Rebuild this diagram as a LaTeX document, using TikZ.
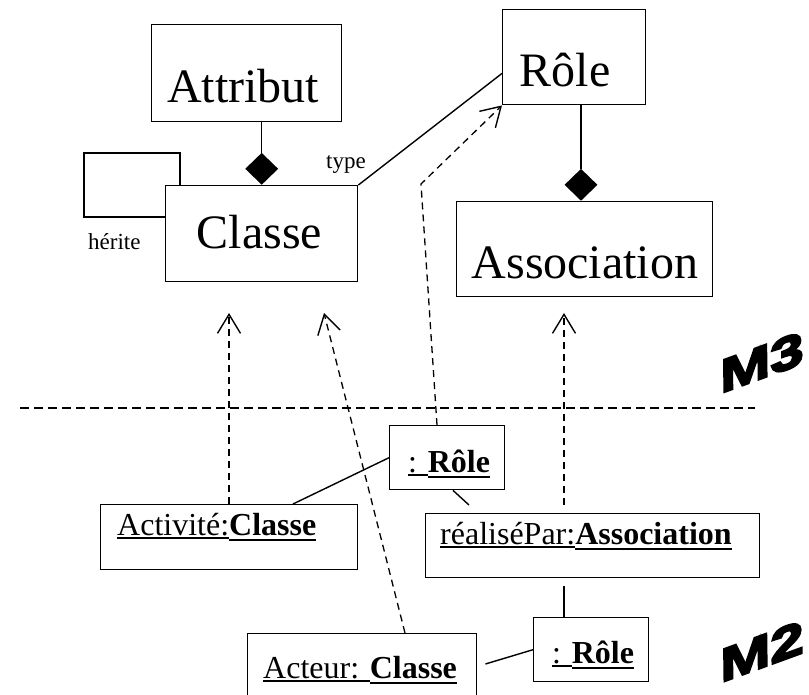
\documentclass[tikz,border=0pt]{standalone}
\usepackage{fontspec}
\setmainfont{Liberation Serif}
\newfontfamily\tagfont[FakeSlant=0.35,FakeBold=5,FakeStretch=1.45]{Liberation Sans}
\usetikzlibrary{arrows.meta,shapes.geometric,calc}

% underlined object names: thin rule under plain text, thick rule under bold text
\newcommand\ulr[1]{\setbox0\hbox{#1}\rlap{\rule[-3.5pt]{\wd0}{1.3pt}}\box0}
\newcommand\ulb[1]{\setbox0\hbox{\bfseries #1}\rlap{\rule[-6pt]{\wd0}{2.4pt}}\box0}

\tikzset{
  box/.style={draw, line width=1.4pt, inner sep=0pt, anchor=north west},
  big/.style={font=\fontsize{48}{50}\selectfont, anchor=base, inner sep=0pt},
  obj/.style={font=\fontsize{32}{34}\selectfont, anchor=base west, inner sep=0pt},
  small/.style={font=\fontsize{23}{25}\selectfont, anchor=base west, inner sep=0pt},
  link/.style={line width=1.4pt},
  dep/.style={line width=1.3pt, dash pattern=on 7pt off 5pt,
    -{Straight Barb[length=19pt,width=23pt,line width=1.4pt]}},
  sep/.style={line width=1.4pt, dash pattern=on 9pt off 5pt},
  comp/.style={diamond, fill=black, draw=none, inner sep=0pt,
    minimum width=33pt, minimum height=32pt, anchor=south},
  layer/.style={font=\tagfont\bfseries\fontsize{44}{44}\selectfont, rotate=20, inner sep=0pt}
}

\begin{document}
\begin{tikzpicture}[x=1pt,y=-1pt]
\useasboundingbox (0,0) rectangle (809,694);
\clip (0,0) rectangle (809,694);

% ---- metamodel (M3) ----
\node[box, minimum width=190pt, minimum height=97pt] (attr) at (151,24) {};
\node[box, minimum width=192pt, minimum height=96pt] (classe) at (165,185) {};
\node[box, minimum width=143pt, minimum height=95pt] (role) at (502,9) {};
\node[box, minimum width=256pt, minimum height=95pt] (assoc) at (456,201) {};

\node[big] (attrT) at (243,102) {Attribut};
\node[big] (classeT) at (259.5,248) {Classe};
\node[big] (roleT) at (565,86) {Rôle};
\node[big] (assocT) at (585,278) {Association};

\node[small] (typeT) at (326,168) {type};
\node[small] (heriteT) at (88,249) {hérite};

% compositions
\node[comp] (d1) at (classe.north) {};
\draw[link] (d1.north) -- (d1.north |- attr.south);
\node[comp] (d2) at ($(assoc.north west)+(125,0)$) {};
\draw[link] (d2.north) -- (d2.north |- role.south);

% association "type"
\draw[link] (classe.north east) -- ($(role.south west)+(0,-32)$);

% self association "hérite"
\draw[link] ($(classe.north west)+(15,0)$) |- ($(classe.north west)+(-81,-32)$)
  |- ($(classe.north west)+(0,32)$);

% ---- layer separator ----
\coordinate (sepL) at (20,408);
\coordinate (sepR) at (755,408);
\draw[sep] (sepL) -- (sepR);

\node[layer] (m3) at (757,364) {M3};
\node[layer] (m2) at (757,653) {M2};

% ---- model (M2) ----
\node[box, minimum width=257pt, minimum height=65pt] (act) at (100,504) {};
\node[box, minimum width=115pt, minimum height=64pt] (r1) at (389,425) {};
\node[box, minimum width=334pt, minimum height=64pt] (rp) at (425,513) {};
\node[box, minimum width=115pt, minimum height=64pt] (r2) at (533,617) {};
\node[box, minimum width=229pt, minimum height=80pt] (acteur) at (247,633) {};

\node[obj] (actT) at (117,535) {\ulr{Activité:}\ulb{Classe}};
\node[obj] (r1T) at (408,472) {\ulr{: }\ulb{Rôle}};
\node[obj] (rpT) at (440,544) {\ulr{réaliséPar:}\ulb{Association}};
\node[obj] (r2T) at (552,663) {\ulr{: }\ulb{Rôle}};
\node[obj] (acteurT) at (263,678) {\ulr{Acteur: }\ulb{Classe}};

% links between instances
\draw[link] ($(act.north west)+(193,0)$) -- (r1.west);
\draw[link] ($(r1.south west)+(64,0)$) -- ($(rp.north west)+(44,-8)$);
\draw[link] ($(rp.south west)+(139,8)$) -- ($(r2.north west)+(31,0)$);
\draw[link] ($(acteur.north east)+(8,31)$) -- (r2.west);

% instance-of dependencies
\coordinate (t1) at (229,313);
\coordinate (t2) at (324,313);
\coordinate (t3) at (564,313);
\coordinate (bend) at (421,184);
\draw[dep] (act.north -| t1) -- (t1);
\draw[dep] ($(acteur.north west)+(158,0)$) -- (t2);
\draw[dep] ($(rp.north west)+(139,-8)$) -- (t3);
\draw[dep] ($(r1.north west)+(48,0)$) -- (bend) -- (role.south west);
\end{tikzpicture}
\end{document}
